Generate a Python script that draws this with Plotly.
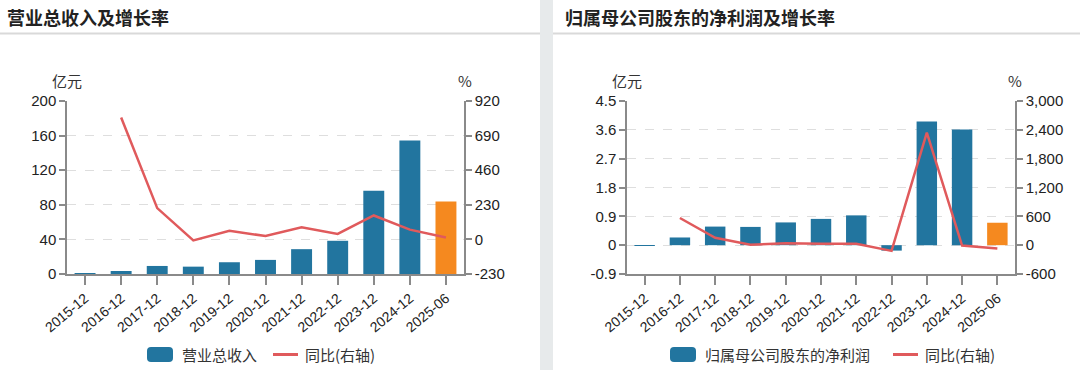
import plotly.graph_objects as go

# ---------------- data ----------------
categories = ["2015-12", "2016-12", "2017-12", "2018-12", "2019-12", "2020-12",
              "2021-12", "2022-12", "2023-12", "2024-12", "2025-06"]

revenue = [0.5, 3.5, 9.3, 8.5, 13.6, 16.3, 28.7, 38.4, 96.3, 154.2, 83.9]
revenue_yoy = [None, 810, 208, -7, 58, 22, 80, 36, 159, 65, 13]

profit = [-0.02, 0.24, 0.58, 0.57, 0.71, 0.82, 0.93, -0.17, 3.86, 3.61, 0.70]
profit_yoy = [None, 566, 154, 7, 42, 28, 28, -119, 2342, -7, -70]

left_ticks = [0, 40, 80, 120, 160, 200]
left_ticktext = ["0", "40", "80", "120", "160", "200"]
left_r_ticks = [-230, 0, 230, 460, 690, 920]
left_r_ticktext = ["-230", "0", "230", "460", "690", "920"]

right_ticks = [-0.9, 0, 0.9, 1.8, 2.7, 3.6, 4.5]
right_ticktext = ["-0.9", "0", "0.9", "1.8", "2.7", "3.6", "4.5"]
right_r_ticks = [-600, 0, 600, 1200, 1800, 2400, 3000]
right_r_ticktext = ["-600", "0", "600", "1,200", "1,800", "2,400", "3,000"]

# ---------------- style ----------------
W, H = 1080, 370
BLUE = "#22759f"
ORANGE = "#f5891f"
RED = "#e05a5c"
AXIS = "#8a8a8a"
GRID = "#dedede"
TXT = "#222222"
FONT = "Liberation Sans, Arial, Noto Sans CJK SC, sans-serif"
CJK = "Noto Sans CJK SC, sans-serif"


def px(x):
    return x / W


def py(y):
    return 1 - y / H


bar_colors = [BLUE] * (len(categories) - 1) + [ORANGE]

fig = go.Figure()
fig.add_trace(go.Bar(x=categories, y=revenue, marker_color=bar_colors, marker_line_width=0,
                     xaxis="x", yaxis="y", showlegend=False))
fig.add_trace(go.Scatter(x=categories, y=revenue_yoy, mode="lines", line=dict(color=RED, width=2.5),
                         xaxis="x", yaxis="y2", showlegend=False, connectgaps=False))
fig.add_trace(go.Bar(x=categories, y=profit, marker_color=bar_colors, marker_line_width=0,
                     xaxis="x2", yaxis="y3", showlegend=False))
fig.add_trace(go.Scatter(x=categories, y=profit_yoy, mode="lines", line=dict(color=RED, width=2.5),
                         xaxis="x2", yaxis="y4", showlegend=False, connectgaps=False))

ydom = [py(274), py(101)]
xdom1 = [px(67), px(464)]
xdom2 = [px(627), px(1015)]

xcommon = dict(type="category", showline=True, linecolor=AXIS, linewidth=1.5,
               ticks="outside", ticklen=9, tickcolor=AXIS, tickwidth=1.5,
               tickangle=-40, tickfont=dict(family=FONT, size=14, color=TXT),
               showgrid=False, zeroline=False, fixedrange=True, automargin=False)
ycommon = dict(showline=True, linecolor=AXIS, linewidth=1.5, ticks="outside", ticklen=6,
               tickcolor=AXIS, tickwidth=1.5, tickfont=dict(family=FONT, size=15, color=TXT),
               zeroline=False, fixedrange=True, automargin=False)

fig.update_layout(
    width=W, height=H,
    margin=dict(l=0, r=0, t=0, b=0, pad=0, autoexpand=False),
    paper_bgcolor="white", plot_bgcolor="white",
    bargap=0.42,
    xaxis=dict(domain=xdom1, anchor="y", **xcommon),
    yaxis=dict(domain=ydom, anchor="x", range=[0, 200], tickvals=left_ticks, ticktext=left_ticktext,
               showgrid=True, gridcolor=GRID, griddash="dash", gridwidth=1, **ycommon),
    yaxis2=dict(overlaying="y", side="right", anchor="x", range=[-230, 920],
                tickvals=left_r_ticks, ticktext=left_r_ticktext, showgrid=False, **ycommon),
    xaxis2=dict(domain=xdom2, anchor="y3", **xcommon),
    yaxis3=dict(domain=ydom, anchor="x2", range=[-0.9, 4.5], tickvals=right_ticks, ticktext=right_ticktext,
                showgrid=True, gridcolor=GRID, griddash="dash", gridwidth=1, **ycommon),
    yaxis4=dict(overlaying="y3", side="right", anchor="x2", range=[-600, 3000],
                tickvals=right_r_ticks, ticktext=right_r_ticktext, showgrid=False, **ycommon),
)

shapes = []
# divider band
shapes.append(dict(type="rect", xref="paper", yref="paper", x0=px(540), x1=px(553), y0=0, y1=1,
                   fillcolor="#e7eaeb", line_width=0, layer="below"))
# title underlines
shapes.append(dict(type="line", xref="paper", yref="paper", x0=0, x1=px(540), y0=py(33.5), y1=py(33.5),
                   line=dict(color="#d9d9d9", width=2)))
shapes.append(dict(type="line", xref="paper", yref="paper", x0=px(553), x1=1, y0=py(33.5), y1=py(33.5),
                   line=dict(color="#d9d9d9", width=2)))


def rounded_rect(x0, y0, x1, y1, r):
    rx, ry = r / W, r / H
    X0, X1 = px(x0), px(x1)
    Y0, Y1 = py(y1), py(y0)  # Y0 bottom, Y1 top in paper
    return (f"M{X0+rx},{Y1} L{X1-rx},{Y1} Q{X1},{Y1} {X1},{Y1-ry} L{X1},{Y0+ry} "
            f"Q{X1},{Y0} {X1-rx},{Y0} L{X0+rx},{Y0} Q{X0},{Y0} {X0},{Y0+ry} "
            f"L{X0},{Y1-ry} Q{X0},{Y1} {X0+rx},{Y1} Z")


annotations = []


def legend(x_sw, name, x_line):
    ly = 354.5
    shapes.append(dict(type="path", xref="paper", yref="paper",
                       path=rounded_rect(x_sw, ly - 7.5, x_sw + 26, ly + 7.5, 4),
                       fillcolor=BLUE, line_width=0))
    annotations.append(dict(xref="paper", yref="paper", x=px(x_sw + 33), y=py(ly), text=name,
                            showarrow=False, xanchor="left", yanchor="middle",
                            font=dict(family=CJK, size=15, color="#333333")))
    shapes.append(dict(type="line", xref="paper", yref="paper", x0=px(x_line), x1=px(x_line + 25),
                       y0=py(ly), y1=py(ly), line=dict(color=RED, width=3)))
    annotations.append(dict(xref="paper", yref="paper", x=px(x_line + 30), y=py(ly), text="同比(右轴)",
                            showarrow=False, xanchor="left", yanchor="middle",
                            font=dict(family=CJK, size=15, color="#333333")))


legend(147, "营业总收入", 273)
legend(670, "归属母公司股东的净利润", 893)

# titles
annotations.append(dict(xref="paper", yref="paper", x=px(5), y=py(17), text="<b>营业总收入及增长率</b>",
                        showarrow=False, xanchor="left", yanchor="middle",
                        font=dict(family=CJK, size=18, color=TXT)))
annotations.append(dict(xref="paper", yref="paper", x=px(563), y=py(17), text="<b>归属母公司股东的净利润及增长率</b>",
                        showarrow=False, xanchor="left", yanchor="middle",
                        font=dict(family=CJK, size=18, color=TXT)))
# unit labels
for xx, t in [(67, "亿元"), (465, "%"), (627, "亿元"), (1015, "%")]:
    annotations.append(dict(xref="paper", yref="paper", x=px(xx), y=py(80), text=t,
                            showarrow=False, xanchor="center", yanchor="middle",
                            font=dict(family=CJK, size=15, color="#333333")))

fig.update_layout(shapes=shapes, annotations=annotations)

fig.write_html("out.html", config={"displayModeBar": False},
               post_script="document.body.style.margin='0';")
